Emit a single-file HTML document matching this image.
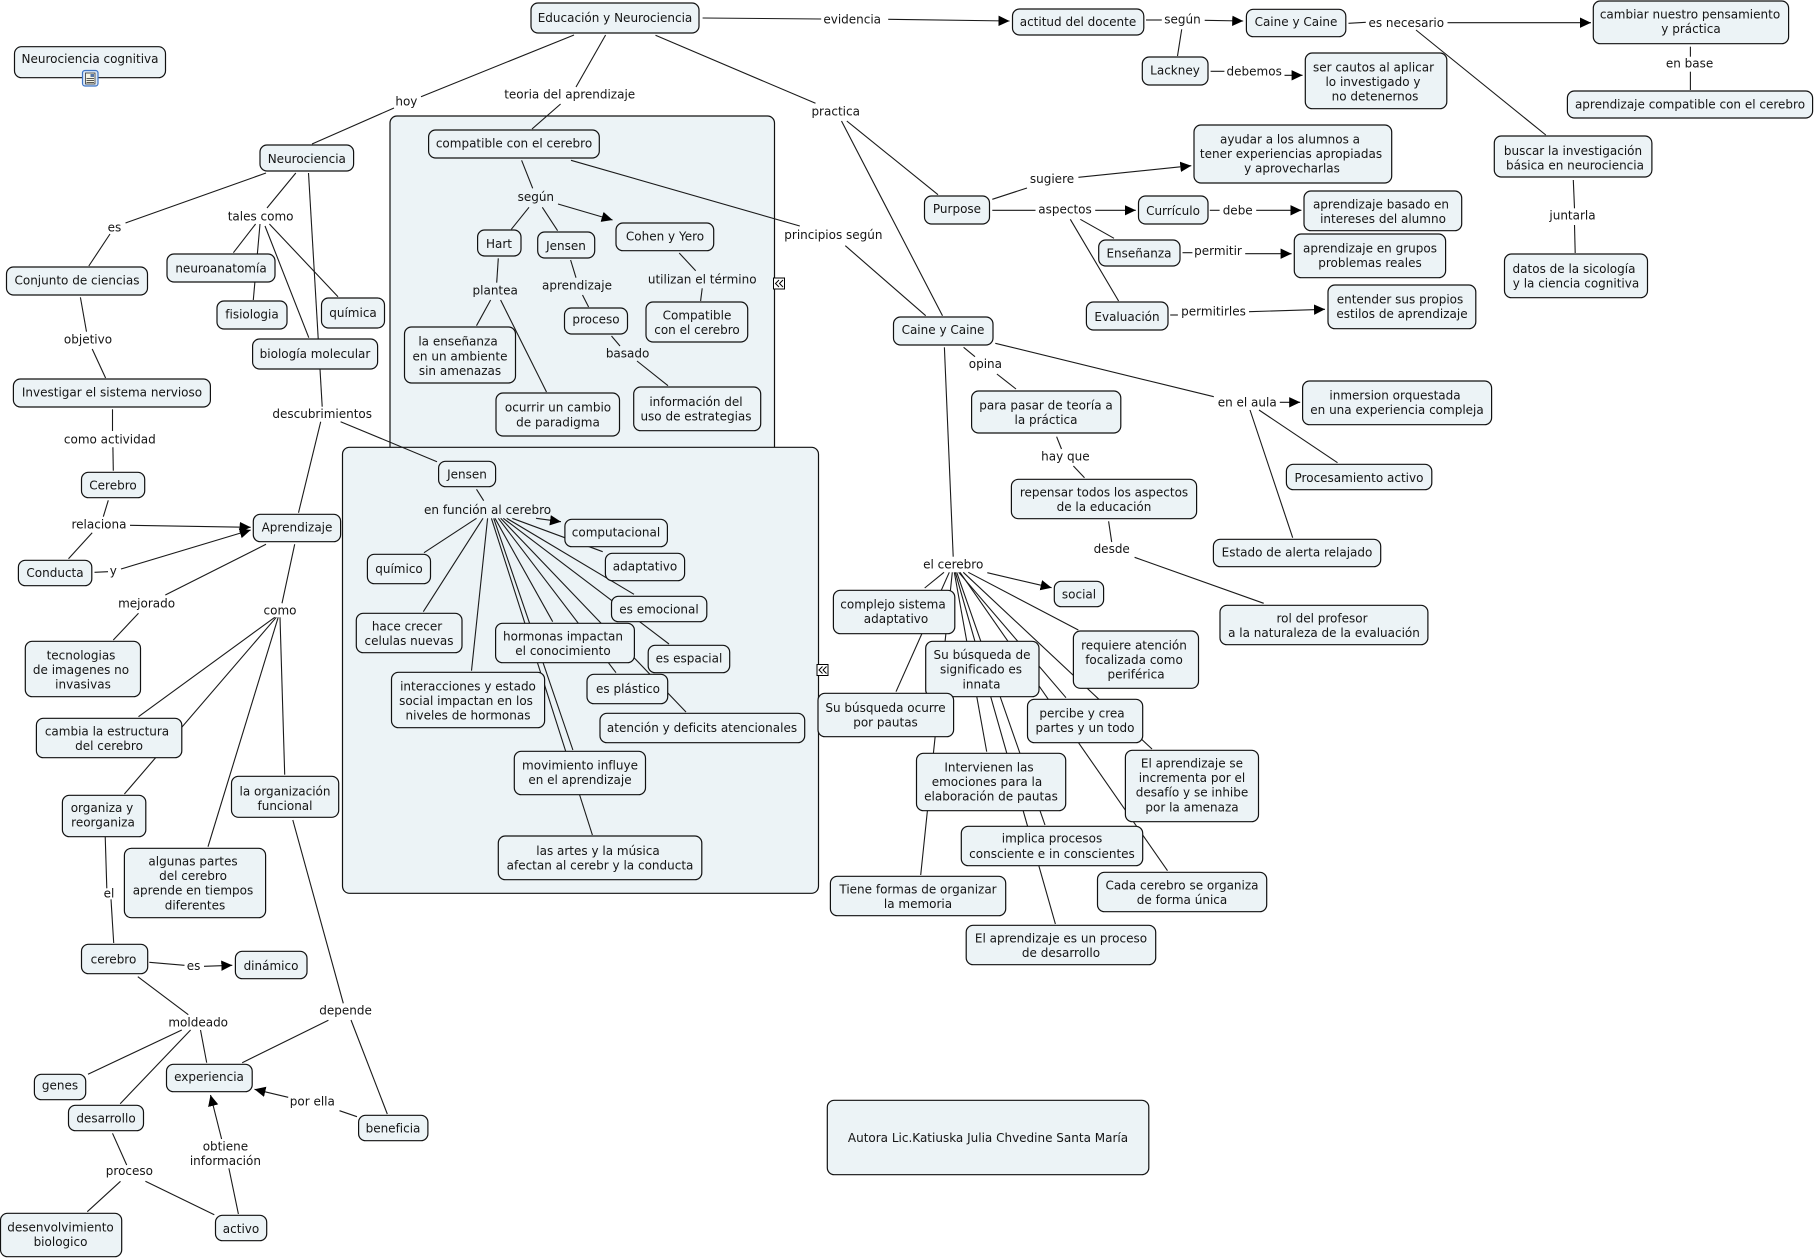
<!DOCTYPE html>
<html lang="es"><head><meta charset="utf-8"><title>Educación y Neurociencia</title>
<style>
html,body{margin:0;padding:0;background:#fff}
svg{display:block}
text{font-family:"DejaVu Sans","Liberation Sans",sans-serif;font-size:12px;text-anchor:middle;fill:#141414}
.n rect{fill:#ecf3f6;stroke:#111;stroke-width:1.2}
.p rect{fill:#ecf3f6;stroke:#111;stroke-width:1.2}
.l line{stroke:#1a1a1a;stroke-width:1.1}
.l line.a{marker-end:url(#ah)}
</style></head><body>
<svg width="1816" height="1258" viewBox="0 0 1816 1258" xmlns="http://www.w3.org/2000/svg">
<defs><marker id="ah" markerUnits="userSpaceOnUse" markerWidth="12" markerHeight="12" refX="11" refY="6" orient="auto"><path d="M0 0.8L11 6L0 11.2z" fill="#000"/></marker></defs>
<g class="p">
<rect x="390" y="116" width="384.5" height="345" rx="7"/>
<rect x="342.5" y="447.3" width="476" height="446" rx="7"/>
</g>
<g class="l">
<line x1="574" y1="35" x2="421" y2="96.7"/><line x1="394" y1="108" x2="312" y2="144"/>
<line x1="605.6" y1="35" x2="576" y2="87"/><line x1="560.6" y1="104" x2="532" y2="129"/>
<line x1="266" y1="173" x2="125.5" y2="223"/><line x1="110" y1="234" x2="88.8" y2="266"/>
<line x1="295.8" y1="173" x2="267" y2="208"/><line x1="255.6" y1="224" x2="233.4" y2="252.7"/>
<line x1="260" y1="224" x2="253.3" y2="300"/><line x1="265" y1="226" x2="308.8" y2="337.7"/>
<line x1="269.4" y1="224" x2="338" y2="296.7"/>
<line x1="308.5" y1="173" x2="322.2" y2="406.7"/>
<line x1="80.4" y1="297.3" x2="86.5" y2="331.7"/><line x1="92.2" y1="349" x2="105.6" y2="378"/>
<line x1="112.5" y1="409.3" x2="112.5" y2="431"/>
<line x1="521.6" y1="160.3" x2="532.7" y2="188.3"/><line x1="529" y1="207.3" x2="511.3" y2="229.3"/>
<line x1="542.3" y1="207.3" x2="557.6" y2="230.7"/><line class="a" x1="558" y1="204" x2="612.6" y2="220"/>
<line x1="498.3" y1="258.3" x2="496.7" y2="282.7"/><line x1="490.6" y1="300" x2="476.5" y2="325.7"/>
<line x1="500.6" y1="300" x2="546.5" y2="392"/><line x1="570.6" y1="260" x2="576" y2="277.7"/>
<line x1="582.5" y1="295" x2="588.6" y2="307"/><line x1="611.5" y1="336" x2="620" y2="346"/>
<line x1="637" y1="361" x2="668" y2="385.7"/><line x1="679.2" y1="253" x2="695.7" y2="270.7"/>
<line x1="702.2" y1="288.3" x2="700.6" y2="301"/><line x1="571" y1="160.3" x2="799.8" y2="226"/>
<line x1="845.3" y1="245.7" x2="925.7" y2="315.7"/>
<line x1="702.6" y1="18" x2="821.2" y2="19"/><line class="a" x1="888.2" y1="19.3" x2="1009.5" y2="21"/>
<line x1="655.5" y1="35.3" x2="815.5" y2="103.3"/><line x1="846.8" y1="121" x2="938" y2="194.7"/>
<line x1="841.5" y1="121" x2="942.5" y2="315.7"/>
<line x1="1146" y1="20" x2="1161.8" y2="20"/><line x1="1181.7" y1="29.3" x2="1177.5" y2="56"/>
<line class="a" x1="1204.7" y1="20.3" x2="1243.2" y2="21"/><line x1="1348.5" y1="23.3" x2="1365.8" y2="22.3"/>
<line class="a" x1="1447.5" y1="22.7" x2="1591" y2="22.7"/><line x1="1416" y1="30" x2="1545.8" y2="135"/>
<line x1="1690.4" y1="46.7" x2="1690.4" y2="56.7"/><line x1="1690.4" y1="71.7" x2="1690.4" y2="90"/>
<line x1="1573.3" y1="180" x2="1574.5" y2="208.3"/><line x1="1574.5" y1="225" x2="1575.2" y2="253"/>
<line x1="1210.6" y1="71.3" x2="1224.4" y2="71.3"/><line class="a" x1="1284.5" y1="75.3" x2="1302.6" y2="75.3"/>
<line x1="992.3" y1="199.3" x2="1027" y2="188"/><line class="a" x1="1078.4" y1="177.3" x2="1191.3" y2="165.7"/>
<line x1="992.3" y1="210.3" x2="1035.5" y2="210.3"/><line class="a" x1="1095.2" y1="210.3" x2="1135.8" y2="210.3"/>
<line x1="1080.3" y1="219.3" x2="1114" y2="238.3"/><line x1="1070.3" y1="219.3" x2="1118.6" y2="301"/>
<line x1="1209.8" y1="210.3" x2="1219.6" y2="210.3"/><line class="a" x1="1256.2" y1="210.3" x2="1301.4" y2="210.3"/>
<line x1="1182.5" y1="252.7" x2="1192.4" y2="252.7"/><line class="a" x1="1245.2" y1="253.7" x2="1291.6" y2="253.7"/>
<line x1="1170.2" y1="315" x2="1177.9" y2="315"/><line class="a" x1="1249" y1="311.7" x2="1325" y2="309.3"/>
<line x1="963.6" y1="347.3" x2="975" y2="356.7"/><line x1="996.9" y1="374" x2="1016" y2="389"/>
<line x1="995.3" y1="343.3" x2="1213.8" y2="396.7"/><line class="a" x1="1279.8" y1="402.3" x2="1300.2" y2="402.3"/>
<line x1="1259" y1="410" x2="1337.5" y2="462.7"/><line x1="1250" y1="410" x2="1292.7" y2="537.7"/>
<line x1="944.4" y1="347.3" x2="953.2" y2="556.7"/>
<line x1="1056.6" y1="436.7" x2="1061.5" y2="449"/><line x1="1073.4" y1="466" x2="1084.5" y2="477.7"/>
<line x1="1108.6" y1="521.3" x2="1111.7" y2="542"/><line x1="1134.6" y1="557.3" x2="1263.7" y2="603.3"/>
<line class="a" x1="987.3" y1="572.7" x2="1051.6" y2="587.7"/>
<line x1="944" y1="572.3" x2="924.7" y2="588"/>
<line x1="949.3" y1="572.3" x2="896" y2="691.7"/>
<line x1="952.3" y1="572.3" x2="920.7" y2="875"/>
<line x1="954.3" y1="572.3" x2="986.7" y2="751.7"/>
<line x1="955.3" y1="572.3" x2="1055.4" y2="924"/>
<line x1="956.7" y1="572.3" x2="1045" y2="825"/>
<line x1="958.7" y1="572.3" x2="1066" y2="697.7"/>
<line x1="960" y1="572.3" x2="1167.5" y2="870.7"/>
<line x1="963.3" y1="572.3" x2="1152" y2="749"/>
<line x1="968.3" y1="572.3" x2="1078.3" y2="630"/>
<line x1="340.6" y1="421.7" x2="437" y2="461.7"/><line x1="476.5" y1="489.3" x2="483.7" y2="500.7"/>
<line x1="476.5" y1="518.3" x2="424" y2="552.7"/><line x1="483" y1="518.3" x2="423.3" y2="611.7"/>
<line x1="487.6" y1="518.3" x2="471.5" y2="670.7"/><line class="a" x1="536" y1="518.3" x2="561" y2="521.7"/>
<line x1="491.4" y1="518.3" x2="592.4" y2="835"/><line x1="493.7" y1="518.3" x2="572.9" y2="750"/>
<line x1="495" y1="518.3" x2="552.7" y2="621.7"/>
<line x1="498.3" y1="518.3" x2="616" y2="672.7"/><line x1="500.7" y1="518.3" x2="686" y2="712"/>
<line x1="506.7" y1="518.3" x2="634" y2="594.3"/><line x1="503.3" y1="518.3" x2="669" y2="644"/>
<line x1="512.3" y1="518.3" x2="602.7" y2="551.7"/>
<line x1="320.7" y1="421.7" x2="298.5" y2="512.7"/><line x1="112.9" y1="447.3" x2="113.3" y2="470.7"/>
<line x1="108.3" y1="500.3" x2="103.3" y2="516.7"/><line x1="92.2" y1="532.7" x2="68.5" y2="558.7"/>
<line class="a" x1="130" y1="525.3" x2="250.7" y2="527.3"/><line x1="94.5" y1="572.3" x2="108" y2="571.7"/>
<line class="a" x1="121" y1="569" x2="250.7" y2="530"/><line x1="266" y1="544.3" x2="165.3" y2="595"/>
<line x1="138.5" y1="613.3" x2="113.3" y2="640"/><line x1="294.7" y1="544.3" x2="282" y2="603.3"/>
<line x1="274.8" y1="617.3" x2="138.5" y2="716.7"/><line x1="276.3" y1="617.3" x2="124.4" y2="794"/>
<line x1="278.2" y1="617.3" x2="208" y2="846.7"/><line x1="280" y1="617.3" x2="284.7" y2="774.7"/>
<line x1="292.8" y1="820" x2="343.3" y2="1003.3"/><line x1="351" y1="1020" x2="387.3" y2="1114"/>
<line x1="328.4" y1="1020.3" x2="242.2" y2="1062.7"/><line x1="105.2" y1="836" x2="106.8" y2="888.3"/>
<line x1="111" y1="899.3" x2="113.7" y2="943"/><line x1="149.3" y1="962.3" x2="184.5" y2="965.3"/>
<line class="a" x1="204" y1="966.3" x2="232.3" y2="965.3"/><line x1="137.8" y1="976.7" x2="188.3" y2="1014.7"/>
<line x1="181.8" y1="1030" x2="88" y2="1074.3"/><line x1="190.6" y1="1030" x2="120.2" y2="1103.7"/>
<line x1="200.5" y1="1030" x2="206.7" y2="1062.7"/><line x1="112.5" y1="1133.3" x2="126.7" y2="1165"/>
<line x1="120.5" y1="1181.3" x2="87.3" y2="1211.7"/><line x1="145.4" y1="1181.3" x2="214.3" y2="1214.7"/>
<line x1="238.4" y1="1214" x2="228.9" y2="1168.3"/><line class="a" x1="221.6" y1="1139" x2="210.5" y2="1095"/>
<line x1="357" y1="1116.7" x2="339.5" y2="1110.7"/><line class="a" x1="288.2" y1="1097.3" x2="254.5" y2="1089.3"/>
</g>
<g class="n">
<rect x="531" y="3" width="168" height="30" rx="7"/><text x="615" y="22">Educación y Neurociencia</text>
<rect x="14.5" y="46.7" width="151" height="31" rx="7"/><text x="90" y="63">Neurociencia cognitiva</text>
<rect x="260" y="145" width="93.6" height="26" rx="7"/><text x="306.8" y="163">Neurociencia</text>
<rect x="6.5" y="267" width="141" height="28" rx="7"/><text x="77" y="284.3">Conjunto de ciencias</text>
<rect x="167" y="254" width="108" height="28" rx="7"/><text x="221" y="272.6">neuroanatomía</text>
<rect x="217" y="301" width="70" height="28" rx="7"/><text x="252" y="318.3">fisiologia</text>
<rect x="321.5" y="298" width="63" height="30" rx="7"/><text x="353" y="317">química</text>
<rect x="252.6" y="339" width="125" height="30" rx="7"/><text x="315" y="358">biología molecular</text>
<rect x="13.4" y="379" width="197" height="28" rx="7"/><text x="112" y="396.3">Investigar el sistema nervioso</text>
<rect x="428.6" y="130" width="170.7" height="28" rx="7"/><text x="514" y="147.3">compatible con el cerebro</text>
<rect x="477.6" y="230" width="43.4" height="26" rx="7"/><text x="499" y="248">Hart</text>
<rect x="537.7" y="232" width="57" height="26" rx="7"/><text x="566" y="250">Jensen</text>
<rect x="404.5" y="327" width="111" height="56" rx="7"/><text x="458" y="345.6">la enseñanza</text><text x="460" y="360.3">en un ambiente</text><text x="460" y="375">sin amenazas</text>
<rect x="564.5" y="308" width="63" height="26" rx="7"/><text x="596" y="323.3">proceso</text>
<rect x="496" y="393" width="123.5" height="43" rx="7"/><text x="558" y="411.6">ocurrir un cambio</text><text x="558" y="426.3">de paradigma</text>
<rect x="616" y="223" width="97.7" height="27.7" rx="7"/><text x="665" y="240.3">Cohen y Yero</text>
<rect x="646" y="302" width="101.7" height="40" rx="7"/><text x="697" y="319.3">Compatible</text><text x="697" y="334">con el cerebro</text>
<rect x="633.7" y="387" width="127" height="43.7" rx="7"/><text x="696" y="406">información del</text><text x="696" y="420.7">uso de estrategias</text>
<rect x="1012.5" y="9" width="131.3" height="26" rx="7"/><text x="1078" y="26">actitud del docente</text>
<rect x="1142.3" y="57" width="65.7" height="28" rx="7"/><text x="1175" y="74.3">Lackney</text>
<rect x="1246.4" y="9.3" width="99.4" height="27.4" rx="7"/><text x="1296" y="26">Caine y Caine</text>
<rect x="1593.3" y="1" width="195.3" height="42.7" rx="7"/><text x="1690" y="18.3">cambiar nuestro pensamiento</text><text x="1691" y="33">y práctica</text>
<rect x="1567.4" y="91" width="245.2" height="27" rx="7"/><text x="1690" y="108.3">aprendizaje compatible con el cerebro</text>
<rect x="1305.3" y="53" width="141.5" height="55.7" rx="7"/><text x="1373.5" y="71.3">ser cautos al aplicar</text><text x="1373" y="86">lo investigado y</text><text x="1375" y="100.6">no detenernos</text>
<rect x="1194" y="125" width="197.7" height="58" rx="7"/><text x="1290" y="143.3">ayudar a los alumnos a</text><text x="1291" y="158">tener experiencias apropiadas</text><text x="1292" y="172.6">y aprovecharlas</text>
<rect x="1304" y="191" width="157.7" height="39.7" rx="7"/><text x="1381" y="208.3">aprendizaje basado en</text><text x="1383" y="223">intereses del alumno</text>
<rect x="1294.3" y="234" width="151.3" height="43.7" rx="7"/><text x="1370" y="252.3">aprendizaje en grupos</text><text x="1370" y="267">problemas reales</text>
<rect x="1328" y="285" width="147.8" height="43.7" rx="7"/><text x="1400" y="303.3">entender sus propios</text><text x="1402" y="318">estilos de aprendizaje</text>
<rect x="1494.3" y="136" width="157.6" height="41" rx="7"/><text x="1573" y="155">buscar la investigación</text><text x="1575" y="169.7">básica en neurociencia</text>
<rect x="1504.5" y="254" width="143" height="43.7" rx="7"/><text x="1574" y="273">datos de la sicología</text><text x="1576" y="287.7">y la ciencia cognitiva</text>
<rect x="924.5" y="196" width="65" height="28" rx="7"/><text x="957" y="213">Purpose</text>
<rect x="1138.5" y="196" width="69.5" height="28" rx="7"/><text x="1173" y="215">Currículo</text>
<rect x="1098.7" y="240" width="81.3" height="26" rx="7"/><text x="1139" y="257.6">Enseñanza</text>
<rect x="1086.4" y="302" width="81.6" height="28" rx="7"/><text x="1127" y="321">Evaluación</text>
<rect x="893.5" y="317" width="99.5" height="28" rx="7"/><text x="943" y="334">Caine y Caine</text>
<rect x="971.6" y="391" width="149.2" height="42" rx="7"/><text x="1046" y="409.3">para pasar de teoría a</text><text x="1046" y="424">la práctica</text>
<rect x="1302.6" y="381" width="189" height="43.7" rx="7"/><text x="1395" y="399.3">inmersion orquestada</text><text x="1397" y="414">en una experiencia compleja</text>
<rect x="1286.4" y="464.3" width="145.4" height="25.4" rx="7"/><text x="1359" y="482">Procesamiento activo</text>
<rect x="1213.4" y="539.3" width="167.3" height="27.4" rx="7"/><text x="1297" y="556.3">Estado de alerta relajado</text>
<rect x="1220" y="605.3" width="207.9" height="39.4" rx="7"/><text x="1322" y="622.3">rol del profesor</text><text x="1324" y="637">a la naturaleza de la evaluación</text>
<rect x="1011.4" y="479.3" width="185.2" height="39.4" rx="7"/><text x="1104" y="496.3">repensar todos los aspectos</text><text x="1104" y="511">de la educación</text>
<rect x="1125.4" y="750.3" width="133.1" height="71.4" rx="7"/><text x="1192" y="767.3">El aprendizaje se</text><text x="1192" y="782">incrementa por el</text><text x="1192" y="796.6">desafío y se inhibe</text><text x="1192" y="811.3">por la amenaza</text>
<rect x="81.5" y="472.3" width="63.2" height="25.4" rx="7"/><text x="113" y="489.3">Cerebro</text>
<rect x="253.3" y="514.3" width="87.3" height="27.4" rx="7"/><text x="297" y="531.3">Aprendizaje</text>
<rect x="18.4" y="560.3" width="73.4" height="25.4" rx="7"/><text x="55" y="577">Conducta</text>
<rect x="25.3" y="641.3" width="115.2" height="55.4" rx="7"/><text x="81" y="659.3">tecnologias</text><text x="81" y="674">de imagenes no</text><text x="83" y="688.6">invasivas</text>
<rect x="36.4" y="718.3" width="145.4" height="39.4" rx="7"/><text x="107" y="735.3">cambia la estructura</text><text x="109" y="750">del cerebro</text>
<rect x="62.4" y="795.3" width="83.4" height="41.4" rx="7"/><text x="102" y="812">organiza y</text><text x="103" y="826.7">reorganiza</text>
<rect x="231.5" y="776.3" width="107.2" height="41" rx="7"/><text x="285" y="795.3">la organización</text><text x="285" y="810">funcional</text>
<rect x="438.6" y="461.3" width="57" height="25.4" rx="7"/><text x="467" y="478.6">Jensen</text>
<rect x="367.4" y="554.3" width="63.1" height="29.4" rx="7"/><text x="399" y="573">químico</text>
<rect x="356.3" y="613.3" width="105.7" height="39.4" rx="7"/><text x="407" y="630.3">hace crecer</text><text x="409" y="645">celulas nuevas</text>
<rect x="495.6" y="623.3" width="138.8" height="39.4" rx="7"/><text x="563" y="640.3">hormonas impactan</text><text x="563" y="655">el conocimiento</text>
<rect x="391.5" y="672.3" width="153.1" height="55.4" rx="7"/><text x="468" y="690.3">interacciones y estado</text><text x="466" y="705">social impactan en los</text><text x="468" y="719.6">niveles de hormonas</text>
<rect x="564.9" y="519.3" width="102.5" height="27.4" rx="7"/><text x="616" y="536.3">computacional</text>
<rect x="605.4" y="553.3" width="79.2" height="27.4" rx="7"/><text x="645" y="570.3">adaptativo</text>
<rect x="611.5" y="596.3" width="95.3" height="25.4" rx="7"/><text x="659" y="613.3">es emocional</text>
<rect x="648.2" y="645.3" width="81.5" height="27.4" rx="7"/><text x="689" y="662.3">es espacial</text>
<rect x="587" y="674.3" width="80.7" height="29.4" rx="7"/><text x="628" y="693">es plástico</text>
<rect x="600" y="713.3" width="204.7" height="29.4" rx="7"/><text x="702" y="732">atención y deficits atencionales</text>
<rect x="514.3" y="751.3" width="131.2" height="43.4" rx="7"/><text x="580" y="769.3">movimiento influye</text><text x="580" y="784">en el aprendizaje</text>
<rect x="498.3" y="836" width="203.5" height="43.7" rx="7"/><text x="598" y="855">las artes y la música</text><text x="600" y="869.7">afectan al cerebr y la conducta</text>
<rect x="833.4" y="590.3" width="121.4" height="43.4" rx="7"/><text x="893" y="608.3">complejo sistema</text><text x="896" y="623">adaptativo</text>
<rect x="925.7" y="641.3" width="113.3" height="55.4" rx="7"/><text x="982" y="659">Su búsqueda de</text><text x="981" y="673.7">significado es</text><text x="981.5" y="688.3">innata</text>
<rect x="1073.4" y="631" width="125.1" height="57.3" rx="7"/><text x="1134" y="649.3">requiere atención</text><text x="1134" y="664">focalizada como</text><text x="1136" y="678.6">periférica</text>
<rect x="1054.3" y="581.3" width="49.3" height="25.4" rx="7"/><text x="1079" y="598.3">social</text>
<rect x="818" y="693.3" width="135.6" height="43.4" rx="7"/><text x="885.5" y="712">Su búsqueda ocurre</text><text x="885.5" y="726.7">por pautas</text>
<rect x="1027.5" y="699.3" width="115.2" height="43.4" rx="7"/><text x="1082" y="717.3">percibe y crea</text><text x="1085" y="732">partes y un todo</text>
<rect x="916.5" y="753.3" width="149.2" height="57.4" rx="7"/><text x="989" y="771.3">Intervienen las</text><text x="987" y="786">emociones para la</text><text x="991" y="800.6">elaboración de pautas</text>
<rect x="961.3" y="826.3" width="181.4" height="39.4" rx="7"/><text x="1052" y="842.6">implica procesos</text><text x="1052" y="858">consciente e in conscientes</text>
<rect x="830.4" y="876.3" width="175.3" height="39.4" rx="7"/><text x="918" y="893.3">Tiene formas de organizar</text><text x="918" y="908">la memoria</text>
<rect x="966.2" y="925.3" width="189.5" height="39.4" rx="7"/><text x="1061" y="942.3">El aprendizaje es un proceso</text><text x="1061" y="957">de desarrollo</text>
<rect x="1097.5" y="872.3" width="169.2" height="39.4" rx="7"/><text x="1182" y="889.3">Cada cerebro se organiza</text><text x="1182" y="904">de forma única</text>
<rect x="827.3" y="1100.3" width="321.5" height="74.4" rx="7"/><text x="988" y="1142">Autora Lic.Katiuska Julia Chvedine Santa María</text>
<rect x="124.4" y="848.3" width="141.2" height="69.4" rx="7"/><text x="193" y="865.3">algunas partes</text><text x="193" y="880">del cerebro</text><text x="193" y="894.6">aprende en tiempos</text><text x="195" y="909.3">diferentes</text>
<rect x="81.5" y="944.3" width="66.2" height="29.4" rx="7"/><text x="113.5" y="963.3">cerebro</text>
<rect x="235.4" y="951.3" width="71.6" height="27.4" rx="7"/><text x="271" y="970">dinámico</text>
<rect x="166.5" y="1064.3" width="85.7" height="27.4" rx="7"/><text x="209" y="1081">experiencia</text>
<rect x="34.4" y="1074.3" width="51.3" height="25.4" rx="7"/><text x="60" y="1089.3">genes</text>
<rect x="68.5" y="1105.3" width="75" height="25.4" rx="7"/><text x="106" y="1122.3">desarrollo</text>
<rect x="358.6" y="1115.3" width="69.3" height="25.4" rx="7"/><text x="393" y="1132.3">beneficia</text>
<rect x="0.5" y="1213.3" width="121.2" height="43.4" rx="7"/><text x="60.5" y="1231.3">desenvolvimiento</text><text x="60.5" y="1246">biologico</text>
<rect x="215.5" y="1215.3" width="51.2" height="25.4" rx="7"/><text x="241" y="1233">activo</text>
</g>
<g>
<text x="406.4" y="105.3">hoy</text><text x="569.7" y="98.4">teoria del aprendizaje</text><text x="835.7" y="115.3">practica</text>
<text x="852.2" y="23.3">evidencia</text><text x="1182.5" y="23.3">según</text><text x="1406.3" y="27">es necesario</text>
<text x="1689.6" y="67.3">en base</text><text x="1254.2" y="75.3">debemos</text><text x="1572.5" y="219.3">juntarla</text>
<text x="1052" y="183">sugiere</text><text x="1065" y="213.6">aspectos</text><text x="1237.7" y="214.3">debe</text>
<text x="1218" y="254.8">permitir</text><text x="1213.5" y="315.3">permitirles</text><text x="833.4" y="239">principios según</text>
<text x="702.2" y="283.6">utilizan el término</text><text x="535.8" y="201">según</text><text x="495.2" y="294.3">plantea</text>
<text x="577" y="289.3">aprendizaje</text><text x="627.6" y="357.3">basado</text><text x="260.6" y="220.3">tales como</text>
<text x="114.4" y="231.3">es</text><text x="88" y="343.3">objetivo</text><text x="322.2" y="418">descubrimientos</text>
<text x="109.8" y="443.3">como actividad</text><text x="99" y="528.3">relaciona</text><text x="113.3" y="575">y</text>
<text x="146.6" y="607.3">mejorado</text><text x="280" y="614.3">como</text><text x="109" y="897.3">el</text>
<text x="193.6" y="970">es</text><text x="198.2" y="1026.3">moldeado</text><text x="345.6" y="1014.3">depende</text>
<text x="312.3" y="1105.3">por ella</text><text x="225.4" y="1150.3">obtiene</text><text x="225.4" y="1165">información</text>
<text x="129.4" y="1175">proceso</text><text x="487.6" y="514">en función al cerebro</text><text x="985.4" y="368">opina</text>
<text x="1065.4" y="460.3">hay que</text><text x="1111.7" y="553">desde</text><text x="953.2" y="568.3">el cerebro</text>
<text x="1247.2" y="406.6">en el aula</text>
</g>
<g fill="none" stroke="#000">
<rect x="773.5" y="278" width="11" height="11" fill="#fff" stroke-width="1"/>
<path d="M779 280L775.5 283.5L779 287M783 280L779.5 283.5L783 287" stroke-width="1"/>
<rect x="817" y="664.5" width="11" height="11" fill="#fff" stroke-width="1"/>
<path d="M822.5 666.5L819 670L822.5 673.5M826.5 666.5L823 670L826.5 673.5" stroke-width="1"/>
<rect x="82.5" y="70.5" width="15.5" height="15.5" rx="2.5" fill="#dbe8f7" stroke="#3f74c4" stroke-width="1.2"/>
<rect x="85.5" y="73" width="9.5" height="11" fill="#f4f4e6" stroke="#333" stroke-width=".8"/>
<path d="M86.5 78.5h7.5M86.5 80.5h7.5M86.5 82.5h7.5" stroke="#222" stroke-width=".8"/>
<rect x="90.5" y="74" width="3.5" height="3" fill="#5577aa" stroke="none"/>
</g>
</svg>
</body></html>
